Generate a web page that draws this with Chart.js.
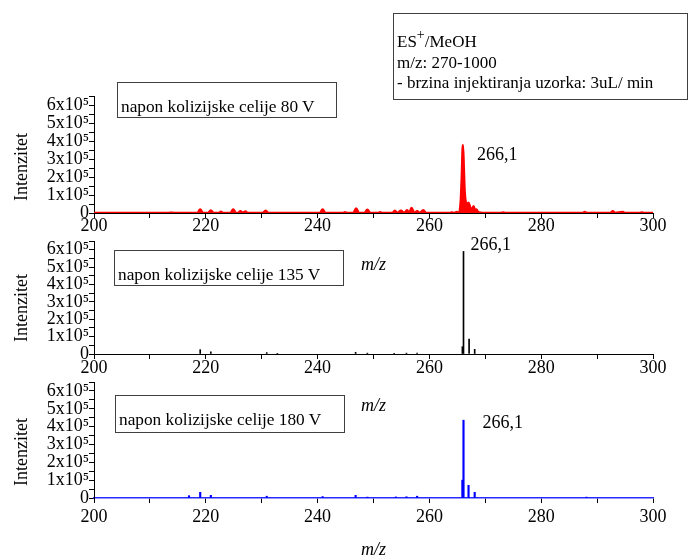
<!DOCTYPE html>
<html><head><meta charset="utf-8">
<script src="https://cdn.jsdelivr.net/npm/chart.js@4"></script>
<style>
html,body{margin:0;padding:0;background:#fff;}
#wrap{position:relative;width:691px;height:557px;overflow:hidden;background:#fff;}
canvas{position:absolute;left:0;top:0;}
.box{position:absolute;border:1px solid #404040;box-sizing:border-box;font-family:'Liberation Serif','Times New Roman',serif;font-size:17.3px;color:#000;padding-left:3px;line-height:20px;padding-top:14px;white-space:nowrap;z-index:5;}
.legend{position:absolute;left:393px;top:13px;width:295px;height:87px;border:1px solid #404040;box-sizing:border-box;font-family:'Liberation Serif','Times New Roman',serif;font-size:17px;color:#000;padding:18px 0 0 3px;line-height:20.5px;white-space:nowrap;z-index:5;}
.legend sup{font-size:14px;line-height:0;vertical-align:8px;}
</style></head>
<body><div id="wrap">
<canvas id="c1" width="691" height="557"></canvas>
<canvas id="c2" width="691" height="557"></canvas>
<canvas id="c3" width="691" height="557"></canvas>
<div class="box" style="left:117px;top:82px;width:220px;height:36px;">napon kolizijske celije 80 V</div>
<div class="box" style="left:114px;top:250px;width:230px;height:36px;">napon kolizijske celije 135 V</div>
<div class="box" style="left:115px;top:395px;width:230px;height:38px;">napon kolizijske celije 180 V</div>
<div class="legend">ES<sup>+</sup>/MeOH<br>m/z: 270-1000<br>- brzina injektiranja uzorka: 3uL/ min</div>
</div>
<script>
// ---- data ----
const xTickLabels = ['200','220','240','260','280','300'];
const yTickLabels = ['0','1x10\u2075','2x10\u2075','3x10\u2075','4x10\u2075','5x10\u2075','6x10\u2075'];
const yTitle = 'Intenzitet';
const xTitle = 'm/z';
const peakLabel = '266,1';

// 80 V : profile spectrum
const topMz  = [200, 213.4,213.8,214.2, 218.5,219.0,219.5, 220.4,220.9,221.4, 222.3,222.7,223.1,
  224.4,224.9,225.4, 225.8,226.2,226.6,227.1,227.5, 230.2,230.7,231.2, 240.4,240.9,241.4,
  244.6,244.9,245.2, 246.4,246.9,247.4, 248.4,248.9,249.4, 250.9,251.2,251.5,
  253.4,253.8,254.3,254.9,255.5,256.0,256.4,256.8,257.3,257.8,258.3,258.9,259.4,
  263.7,264.0,264.4,264.9,265.3, 265.6,265.8,266.0,266.15,266.3,266.5,266.7,267.0,267.3,267.6,267.9,268.15,268.4,268.7,269.1,269.5,
  272.9,273.2,273.5, 287.4,287.8,288.2, 292.4,292.8,293.2,294.6,295.0, 297.7,298.0,298.3, 300];
const topInt = [0, 0,2000,0, 0,20000,0, 0,14000,0, 0,7000,0,
  0,20000,0, 0,10000,0,8000,0, 0,12000,0, 0,20000,0,
  0,4000,0, 0,25000,0, 0,18000,0, 0,4000,0,
  0,12000,0,12000,0,15000,0,28000,0,10000,0,15000,0,
  0,3000,0,5000,0, 60000,200000,378000,250000,120000,60000,40000,57000,30000,18000,38000,15000,20000,5000,2000,0,
  0,3000,0, 0,5000,0, 0,10000,0,5000,0, 0,3000,0, 0];

// 135 V : stick spectrum
const midMz  = [219.0,220.9,230.9,232.8,246.8,248.9,253.7,255.9,257.8,265.9,266.1,267.1,268.1];
const midInt = [25000,12000,8000,4000,10000,5000,4000,5000,6000,42000,590000,86000,27000];

// 180 V : stick spectrum
const botMz  = [217.0,219.0,220.9,230.9,240.9,246.8,248.9,254.0,255.9,257.8,265.9,266.1,267.0,268.1,288.1];
const botInt = [13000,32000,15000,10000,8000,15000,5000,6000,7000,10000,100000,436000,71000,32000,5000];

// ---- chart ----
Chart.defaults.font.family = "'Liberation Serif','Times New Roman',serif";
Chart.defaults.color = '#000';

const decor = {
  id: 'decor',
  afterDraw(chart, args, o) {
    const {ctx, chartArea: a, scales: {x, y}} = chart;
    ctx.save();
    ctx.fillStyle = '#000';
    ctx.font = "18px 'Liberation Serif','Times New Roman',serif";
    ctx.textAlign = 'center';
    ctx.textBaseline = 'middle';
    ctx.save();
    ctx.translate(22, a.bottom - 46);
    ctx.rotate(-Math.PI / 2);
    ctx.fillText(yTitle, 0, 0);
    ctx.restore();
    ctx.font = "italic 18px 'Liberation Serif','Times New Roman',serif";
    ctx.fillText(xTitle, (a.left + a.right) / 2, a.bottom + 52);
    ctx.font = "18px 'Liberation Serif','Times New Roman',serif";
    ctx.textAlign = 'left';
    ctx.fillText(peakLabel, x.getPixelForValue(o.mz) + o.dx, y.getPixelForValue(o.val) + o.dy);
    ctx.restore();
  }
};

function pts(xs, ys) { return xs.map((v, i) => ({x: v, y: ys[i]})); }

function makePanel(id, type, dataset, top, bottom, peak, xBorder, xPad) {
  const yW = 64, xH = 30;
  return new Chart(document.getElementById(id), {
    type: type,
    data: {datasets: [dataset]},
    plugins: [decor],
    options: {
      responsive: false, animation: false, events: [],
      layout: {padding: {left: 94 - yW, right: 691 - 653, top: top, bottom: 557 - bottom - xH}},
      plugins: {legend: {display: false}, tooltip: {enabled: false}, decor: peak},
      scales: {
        x: {
          type: 'linear', min: 200, max: 300, offset: false,
          ticks: {stepSize: 10, autoSkip: false, maxRotation: 0, padding: xPad, font: {size: 18}, color: '#000',
            callback: v => (v % 20 === 0 ? xTickLabels[(v - 200) / 20] : '')},
          grid: {drawOnChartArea: false, drawTicks: true, tickLength: 5, color: '#000', offset: false},
          border: xBorder,
          afterFit: s => { s.height = xH; }
        },
        y: {
          type: 'linear', min: 0, max: 650000,
          ticks: {stepSize: 50000, autoSkip: false, padding: 0, includeBounds: false, font: {size: 18}, color: '#000',
            callback: v => (v % 100000 === 0 ? yTickLabels[v / 100000] : '')},
          grid: {drawOnChartArea: false, drawTicks: true, tickLength: 5, color: '#000'},
          border: {color: '#000', width: 1},
          afterFit: s => { s.width = yW; }
        }
      }
    }
  });
}

makePanel('c1', 'line', {
  data: pts(topMz, topInt), borderColor: '#ff0000', backgroundColor: '#ff0000',
  borderWidth: 2.5, pointRadius: 0, fill: 'origin', cubicInterpolationMode: 'monotone'
}, 96, 213, {mz: 266.0, val: Math.max(...topInt), dx: 14, dy: 10}, {color: '#000', width: 1}, -3);

makePanel('c2', 'bar', {
  data: pts(midMz, midInt), backgroundColor: '#000', borderWidth: 0,
  barThickness: 1, categoryPercentage: 1, barPercentage: 1
}, 241, 354, {mz: 266.1, val: Math.max(...midInt), dx: 7, dy: -6}, {color: '#000', width: 1, dash: [3, 2]}, -2);

makePanel('c3', 'bar', {
  data: pts(botMz, botInt), backgroundColor: '#0000ff', borderWidth: 0,
  barThickness: 1.5, categoryPercentage: 1, barPercentage: 1
}, 382, 498, {mz: 266.1, val: Math.max(...botInt), dx: 19, dy: 3}, {color: '#2a2aff', width: 1.5}, 3);
</script>
</body></html>
